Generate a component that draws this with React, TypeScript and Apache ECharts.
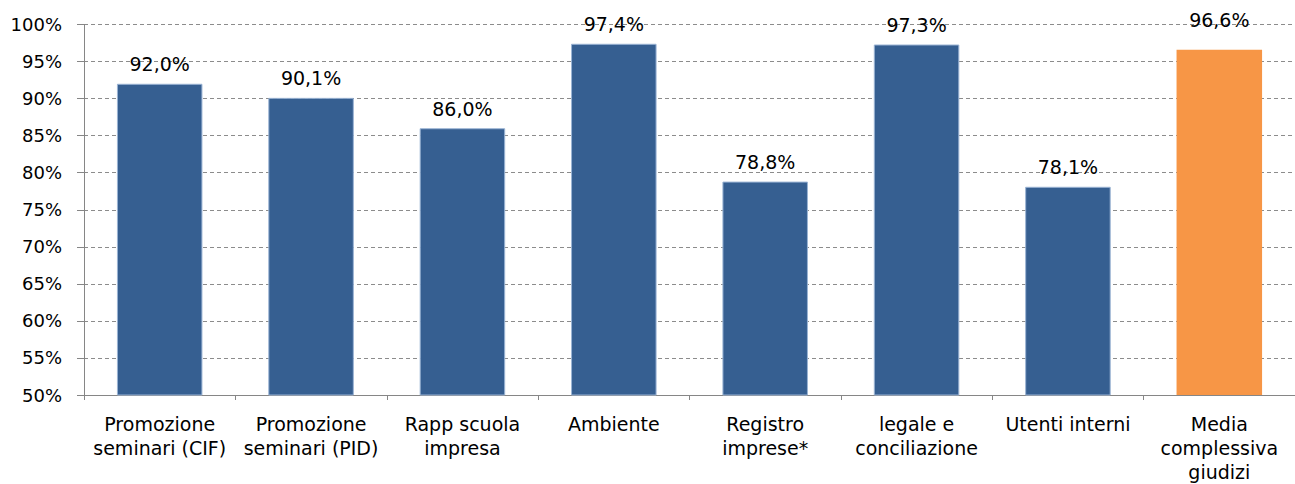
import React, { useEffect, useRef } from "react";
import * as echarts from "echarts";

const categories = [
  "Promozione\nseminari (CIF)",
  "Promozione\nseminari (PID)",
  "Rapp scuola\nimpresa",
  "Ambiente",
  "Registro\nimprese*",
  "legale e\nconciliazione",
  "Utenti interni",
  "Media\ncomplessiva\ngiudizi",
];
const values = [92.0, 90.1, 86.0, 97.4, 78.8, 97.3, 78.1, 96.6];
const highlightIndex = 7;
const yMin = 50;
const yMax = 100;
const yStep = 5;

const FONT = "DejaVu Sans";

export default function App() {
  const ref = useRef<HTMLDivElement>(null);
  useEffect(() => {
    if (!ref.current) return;
    const chart = echarts.init(ref.current, null, { renderer: "svg" });
    const data = values.map((v, i) => {
      const item: any = {
        value: v,
        itemStyle:
          i === highlightIndex
            ? { color: "#F79646", borderColor: "#F79646", borderWidth: 0 }
            : { color: "#365F91", borderColor: "#9BB4D4", borderWidth: 1 },
      };
      if (i === highlightIndex) item.label = { distance: 20 };
      return item;
    });
    chart.setOption({
      animation: false,
      grid: { left: 84, right: -8, top: 24.5, bottom: 84, containLabel: false },
      xAxis: {
        type: "category",
        data: categories,
        axisLine: { show: true, lineStyle: { color: "#868686", width: 1 } },
        axisTick: { show: true, length: 5, alignWithLabel: false, lineStyle: { color: "#868686" } },
        axisLabel: {
          interval: 0,
          margin: 17,
          color: "#000",
          fontFamily: FONT,
          fontSize: 19,
          lineHeight: 24,
          verticalAlign: "top",
        },
      },
      yAxis: {
        type: "value",
        min: yMin,
        max: yMax,
        interval: yStep,
        axisLine: { show: true, lineStyle: { color: "#868686", width: 1 } },
        axisTick: { show: true, length: 7, lineStyle: { color: "#868686" } },
        axisLabel: {
          margin: 22,
          color: "#000",
          fontFamily: FONT,
          fontSize: 18,
          formatter: (v: number) => `${v}%`,
        },
        splitLine: {
          show: true,
          lineStyle: { color: "#8C8C8C", type: [4, 3], width: 1 },
        },
      },
      series: [
        {
          type: "bar",
          data,
          barWidth: "56.5%",
          label: {
            show: true,
            position: "top",
            distance: 10,
            color: "#000",
            fontFamily: FONT,
            fontSize: 19,
            formatter: (p: any) => p.value.toFixed(1).replace(".", ",") + "%",
          },
        },
      ],
    });
    return () => chart.dispose();
  }, []);
  return (
    <div
      ref={ref}
      style={{ position: "fixed", left: 0, top: 0, width: 1295, height: 484, background: "#fff" }}
    />
  );
}
